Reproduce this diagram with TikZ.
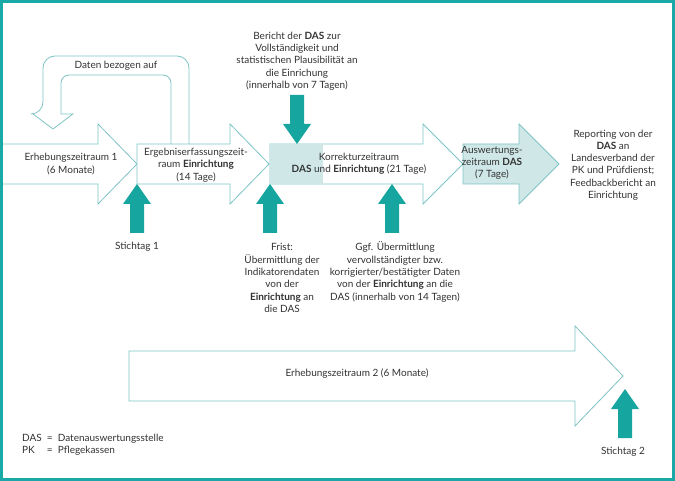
\documentclass[tikz,border=0pt]{standalone}
\usepackage{fontspec}
\setmainfont{Lato}
\definecolor{frameteal}{HTML}{19A9A6}
\definecolor{arrteal}{HTML}{16A59F}
\definecolor{lineteal}{HTML}{7FC4C6}
\definecolor{shadeteal}{HTML}{CFE7E7}
\definecolor{txt}{HTML}{333333}
\tikzset{
  outl/.style={draw=lineteal, line width=0.8pt, line join=miter},
  lbl/.style={text=txt, align=center, font=\fontsize{10}{12.3}\selectfont, inner sep=0pt},
  tealup/.pic={\fill[arrteal] (0,0) -- (14,20) -- (7,20) -- (7,49) -- (-7,49) -- (-7,20) -- (-14,20) -- cycle;}
}
\begin{document}
\begin{tikzpicture}[x=1pt,y=-1pt]
\useasboundingbox (0,0) rectangle (675,481);
\fill[white] (0,0) rectangle (675,481);
% loop arrow
\draw[outl, fill=white, rounded corners=12pt] (189,144) -- (189,56) -- (43,56) -- (43,114) [sharp corners] -- (33,114) -- (53,129) -- (73,114) -- (61,114) [rounded corners=8pt] -- (61,75) -- (171,75) -- (171,144);
\node[lbl] (daten) at (116,66) {Daten bezogen auf};
% arrow 1
\draw[outl, fill=white] (2,144) -- (98,144) -- (98,124) -- (137,164) -- (98,204) -- (98,184) -- (2,184);
% arrow 2
\draw[outl, fill=white] (137,144) -- (230,144) -- (230,124) -- (269,164) -- (230,204) -- (230,184) -- (137,184) -- cycle;
% arrow 3
\draw[outl, fill=white] (270,144) -- (423,144) -- (423,124) -- (463,164) -- (423,204) -- (423,184) -- (270,184) -- cycle;
\fill[shadeteal] (270.4,144.4) rectangle (323,183.6);
% arrow 4
\draw[outl, fill=shadeteal] (463,144) -- (519,144) -- (519,124) -- (559,164) -- (519,204) -- (519,184) -- (463,184) -- cycle;
% bottom arrow
\draw[outl, fill=white] (129,351) -- (575,351) -- (575,326) -- (623,376) -- (575,426) -- (575,401) -- (129,401) -- cycle;
% teal arrows
\pic at (137,184) {tealup};
\pic at (270,184) {tealup};
\pic at (392,184) {tealup};
\pic[rotate=180] at (297,144) {tealup};
\pic at (625,389) {tealup};
% texts
\node[lbl] (e1) at (71,164) {Erhebungszeitraum 1\\(6 Monate)};
\node[lbl] (erg) at (196,165) {Ergebniserfassungszeit-\\raum \textbf{Einrichtung}\\(14 Tage)};
\node[lbl] (korr) at (359,164) {Korrekturzeitraum\\\textbf{DAS} und \textbf{Einrichtung} (21 Tage)};
\node[lbl] (ausw) at (492,163) {Auswertungs-\\zeitraum \textbf{DAS}\\(7 Tage)};
\node[lbl] (rep) at (613,165) {Reporting von der\\\textbf{DAS} an\\Landesverband der\\PK und Prüfdienst;\\Feedbackbericht an\\Einrichtung};
\node[lbl] (ber) at (297,61) {Bericht der \textbf{DAS} zur\\Vollständigkeit und\\statistischen Plausibilität an\\die Einrichung\\(innerhalb von 7 Tagen)};
\node[lbl] (st1) at (137,247) {Stichtag 1};
\node[lbl] (frist) at (282,278) {Frist:\\Übermittlung der\\Indikatorendaten\\von der\\\textbf{Einrichtung} an\\die DAS};
\node[lbl] (ggf) at (395,272) {Ggf. Übermittlung\\vervollständigter bzw.\\korrigierter/bestätigter Daten\\von der \textbf{Einrichtung} an die\\DAS (innerhalb von 14 Tagen)};
\node[lbl] (e2) at (357,374) {Erhebungszeitraum 2 (6 Monate)};
\node[lbl] (st2) at (623,452) {Stichtag 2};
\node[lbl, anchor=west, align=left] (leg) at (22,445) {\begin{tabular}{@{}l@{\ \ }l@{}}DAS & = \ Datenauswertungsstelle\\PK & = \ Pflegekassen\end{tabular}};
% frame
\draw[frameteal, line width=3pt] (1.5,1.5) rectangle (673.5,479.5);
\end{tikzpicture}
\end{document}
